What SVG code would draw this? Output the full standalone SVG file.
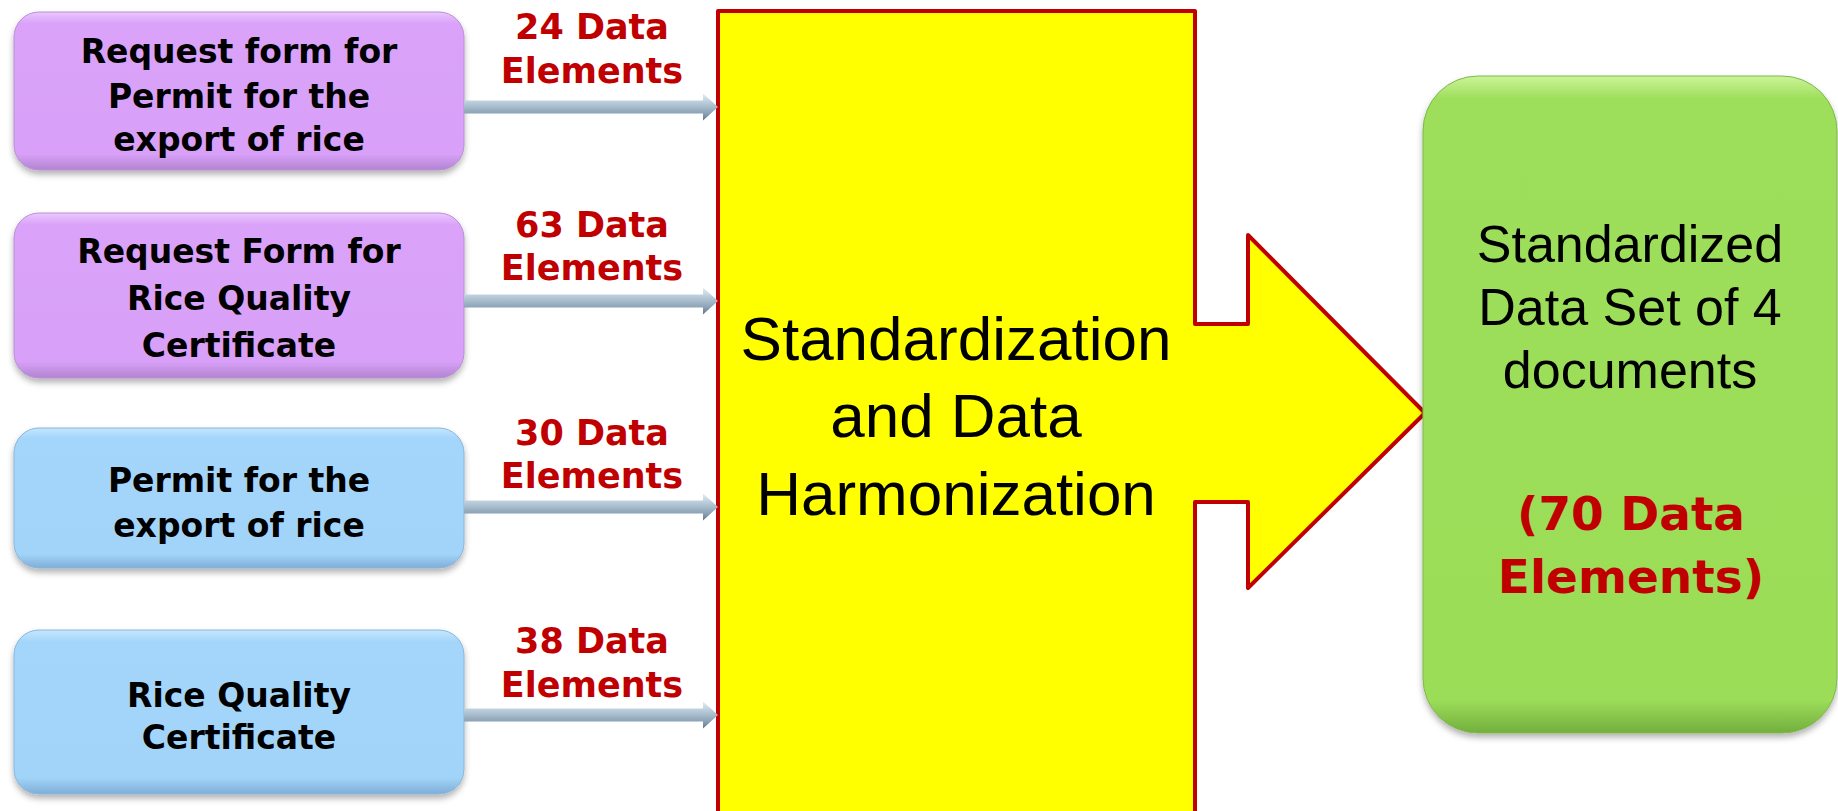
<svg xmlns="http://www.w3.org/2000/svg" xmlns:xlink="http://www.w3.org/1999/xlink" width="1838" height="811" viewBox="0 0 1838 811">
<style>
.bt{font-family:"DejaVu Sans",Verdana,sans-serif;font-weight:bold;font-size:33px;fill:#000;text-anchor:middle}
.lb{font-family:"DejaVu Sans",Verdana,sans-serif;font-weight:bold;font-size:35px;fill:#C00000;text-anchor:middle}
.big{font-family:"Liberation Sans",Arial,sans-serif;font-size:62px;fill:#000;text-anchor:middle}
.gt{font-family:"Liberation Sans",Arial,sans-serif;font-size:52px;fill:#000;text-anchor:middle}
.gr{font-family:"DejaVu Sans",Verdana,sans-serif;font-weight:bold;font-size:47px;fill:#C00000;text-anchor:middle}
</style>
<defs>
<filter id="sh" x="-5%" y="-10%" width="110%" height="125%">
<feDropShadow dx="0" dy="4" stdDeviation="3" flood-color="#000" flood-opacity="0.3"/>
</filter>
<linearGradient id="gP" x1="0" y1="0" x2="0" y2="1">
<stop offset="0" stop-color="#EBC8FD"/>
<stop offset="0.07" stop-color="#DAA3F9"/>
<stop offset="0.9" stop-color="#D8A0F8"/>
<stop offset="1" stop-color="#B184D0"/>
</linearGradient>
<linearGradient id="gB" x1="0" y1="0" x2="0" y2="1">
<stop offset="0" stop-color="#C6E7FD"/>
<stop offset="0.07" stop-color="#A4D6FB"/>
<stop offset="0.9" stop-color="#A2D4FA"/>
<stop offset="1" stop-color="#7FAED6"/>
</linearGradient>
<linearGradient id="gG" x1="0" y1="0" x2="0" y2="1">
<stop offset="0" stop-color="#CBF49A"/>
<stop offset="0.035" stop-color="#9DDE5A"/>
<stop offset="0.95" stop-color="#9CDD59"/>
<stop offset="1" stop-color="#73AE3E"/>
</linearGradient>
<linearGradient id="gA" x1="0" y1="0" x2="0" y2="1">
<stop offset="0" stop-color="#E4EEF5"/>
<stop offset="0.35" stop-color="#B7CAD9"/>
<stop offset="0.75" stop-color="#8AA1B4"/>
<stop offset="1" stop-color="#5C7387"/>
</linearGradient>
<polygon id="arr" points="464,-6.5 703,-6.5 703,-13.5 718,0 703,13.5 703,6.5 464,6.5" fill="url(#gA)"/>
</defs>
<rect width="1838" height="811" fill="#FFFFFF"/>

<g id="node-request-permit">
<rect x="14" y="12" width="450" height="158" rx="25" fill="url(#gP)" stroke="#B98ED6" stroke-width="1" filter="url(#sh)"/>
<text class="bt" x="239" y="63">Request form for</text>
<text class="bt" x="239" y="108">Permit for the</text>
<text class="bt" x="239" y="151">export of rice</text>
</g>

<g id="node-request-quality">
<rect x="14" y="213" width="450" height="165" rx="25" fill="url(#gP)" stroke="#B98ED6" stroke-width="1" filter="url(#sh)"/>
<text class="bt" x="239" y="263">Request Form for</text>
<text class="bt" x="239" y="310">Rice Quality</text>
<text class="bt" x="239" y="357">Certificate</text>
</g>

<g id="node-permit">
<rect x="14" y="428" width="450" height="140" rx="25" fill="url(#gB)" stroke="#87B6DC" stroke-width="1" filter="url(#sh)"/>
<text class="bt" x="239" y="492">Permit for the</text>
<text class="bt" x="239" y="537">export of rice</text>
</g>

<g id="node-quality">
<rect x="14" y="630" width="450" height="164" rx="25" fill="url(#gB)" stroke="#87B6DC" stroke-width="1" filter="url(#sh)"/>
<text class="bt" x="239" y="707">Rice Quality</text>
<text class="bt" x="239" y="749">Certificate</text>
</g>

<g id="node-harmonization">
<polygon points="718,11 1195,11 1195,324 1248,324 1248,235 1425,413 1248,588 1248,502 1195,502 1195,820 718,820" fill="#FFFF00" stroke="#C00000" stroke-width="4" stroke-linejoin="round"/>
<text class="big" x="956" y="360">Standardization</text>
<text class="big" x="956" y="437">and Data</text>
<text class="big" x="956" y="515">Harmonization</text>
</g>

<g id="node-result">
<rect x="1423" y="76" width="414" height="657" rx="55" fill="url(#gG)" stroke="#7FB84A" stroke-width="1" filter="url(#sh)"/>
<text class="gt" x="1630" y="262">Standardized</text>
<text class="gt" x="1630" y="325">Data Set of 4</text>
<text class="gt" x="1630" y="388">documents</text>
<text class="gr" x="1631" y="530">(70 Data</text>
<text class="gr" x="1631" y="593">Elements)</text>
</g>

<g id="connectors">
<use xlink:href="#arr" transform="translate(0,107)"/>
<use xlink:href="#arr" transform="translate(0,301)"/>
<use xlink:href="#arr" transform="translate(0,507)"/>
<use xlink:href="#arr" transform="translate(0,715)"/>
<text class="lb" x="592" y="39">24 Data</text>
<text class="lb" x="592" y="83">Elements</text>
<text class="lb" x="592" y="237">63 Data</text>
<text class="lb" x="592" y="280">Elements</text>
<text class="lb" x="592" y="445">30 Data</text>
<text class="lb" x="592" y="488">Elements</text>
<text class="lb" x="592" y="653">38 Data</text>
<text class="lb" x="592" y="697">Elements</text>
</g>
</svg>
